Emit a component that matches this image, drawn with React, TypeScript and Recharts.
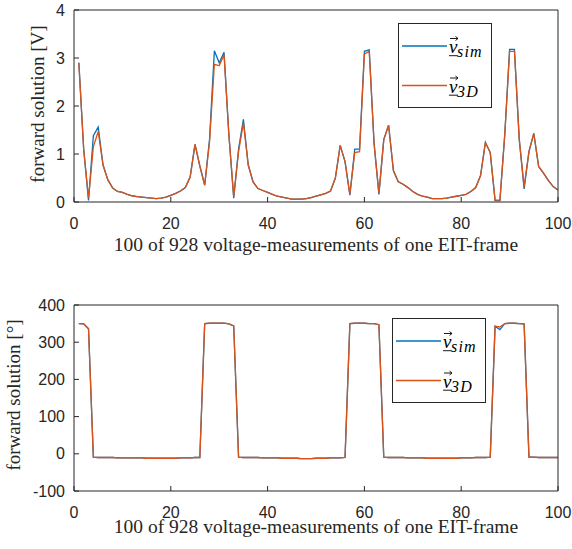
import React from 'react';
import { LineChart, Line, XAxis, YAxis, Legend } from 'recharts';

// measurement index (1..100)
const measurementIndex = [
  1, 2, 3, 4, 5, 6, 7, 8, 9, 10, 11, 12, 13, 14, 15, 16, 17, 18, 19, 20,
  21, 22, 23, 24, 25, 26, 27, 28, 29, 30, 31, 32, 33, 34, 35, 36, 37, 38, 39, 40,
  41, 42, 43, 44, 45, 46, 47, 48, 49, 50, 51, 52, 53, 54, 55, 56, 57, 58, 59, 60,
  61, 62, 63, 64, 65, 66, 67, 68, 69, 70, 71, 72, 73, 74, 75, 76, 77, 78, 79, 80,
  81, 82, 83, 84, 85, 86, 87, 88, 89, 90, 91, 92, 93, 94, 95, 96, 97, 98, 99, 100,
];

// magnitude [V]
const magSim = [
  2.9, 1.1, 0.03, 1.38, 1.56, 0.77, 0.46, 0.29, 0.22, 0.2,
  0.16, 0.13, 0.11, 0.1, 0.09, 0.08, 0.07, 0.08, 0.1, 0.14,
  0.18, 0.23, 0.3, 0.52, 1.2, 0.75, 0.35, 1.3, 3.15, 2.9,
  3.12, 1.4, 0.08, 1.1, 1.72, 0.77, 0.42, 0.28, 0.24, 0.2,
  0.16, 0.12, 0.1, 0.08, 0.06, 0.06, 0.06, 0.07, 0.09, 0.12,
  0.15, 0.18, 0.23, 0.5, 1.18, 0.84, 0.14, 1.1, 1.1, 3.14,
  3.17, 1.22, 0.16, 1.3, 1.6, 0.65, 0.42, 0.37, 0.3, 0.22,
  0.16, 0.12, 0.1, 0.07, 0.07, 0.07, 0.08, 0.1, 0.12, 0.14,
  0.16, 0.22, 0.3, 0.55, 1.24, 1.03, 0.03, 0.03, 1.4, 3.18,
  3.18, 1.3, 0.27, 1.05, 1.43, 0.74, 0.6, 0.45, 0.32, 0.25,
];
const mag3D = [
  2.9, 1.1, 0.08, 1.15, 1.47, 0.77, 0.46, 0.29, 0.22, 0.2,
  0.16, 0.13, 0.11, 0.1, 0.09, 0.08, 0.07, 0.08, 0.1, 0.14,
  0.18, 0.23, 0.3, 0.52, 1.2, 0.75, 0.35, 1.25, 2.87, 2.84,
  3.07, 1.4, 0.11, 1.05, 1.65, 0.77, 0.42, 0.28, 0.24, 0.2,
  0.16, 0.12, 0.1, 0.08, 0.06, 0.06, 0.06, 0.07, 0.09, 0.12,
  0.15, 0.18, 0.23, 0.5, 1.18, 0.84, 0.16, 1.03, 1.05, 3.08,
  3.14, 1.22, 0.18, 1.3, 1.6, 0.65, 0.42, 0.37, 0.3, 0.22,
  0.16, 0.12, 0.1, 0.07, 0.07, 0.07, 0.08, 0.1, 0.12, 0.14,
  0.16, 0.22, 0.3, 0.55, 1.24, 1.03, 0.04, 0.04, 1.4, 3.14,
  3.14, 1.3, 0.32, 1.05, 1.43, 0.74, 0.6, 0.45, 0.32, 0.25,
];

// phase [deg]
const phSim = [
  350, 349, 337, -9, -10, -10, -10, -10, -11, -11,
  -11, -11, -11, -11, -12, -12, -12, -12, -12, -12,
  -12, -11, -11, -11, -10, -10, 350, 351, 351, 351,
  351, 349, 344, -9, -10, -10, -10, -10, -11, -11,
  -11, -11, -12, -12, -12, -12, -13, -13, -13, -12,
  -12, -12, -11, -11, -11, -10, 350, 351, 351, 351,
  350, 350, 347, -9, -10, -10, -10, -10, -11, -11,
  -11, -11, -12, -12, -12, -12, -12, -12, -12, -11,
  -11, -11, -10, -10, -10, -9, 343, 334, 350, 351,
  351, 350, 349, -9, -9, -10, -10, -10, -10, -10,
];
const ph3D = [
  350, 349, 335, -9, -10, -10, -10, -10, -11, -11,
  -11, -11, -11, -11, -12, -12, -12, -12, -12, -12,
  -12, -11, -11, -11, -10, -10, 350, 351, 351, 351,
  351, 349, 344, -9, -10, -10, -10, -10, -11, -11,
  -11, -11, -12, -12, -12, -12, -13, -13, -13, -12,
  -12, -12, -11, -11, -11, -10, 350, 351, 351, 351,
  350, 350, 347, -9, -10, -10, -10, -10, -11, -11,
  -11, -11, -12, -12, -12, -12, -12, -12, -12, -11,
  -11, -11, -10, -10, -10, -9, 343, 341, 350, 351,
  351, 350, 349, -9, -9, -10, -10, -10, -10, -10,
];

const xTicks = [0, 20, 40, 60, 80, 100];
const magTicks = [0, 1, 2, 3, 4];
const phTicks = [-100, 0, 100, 200, 300, 400];

const xLabel = '100 of 928 voltage-measurements of one EIT-frame';
const magLabel = 'forward solution [V]';
const phLabel = 'forward solution [°]';
const seriesNames = ['sim', '3D'];

const BLUE = '#0072BD';
const ORANGE = '#D95319';
const AXIS = '#262626';
const SANS = "'Liberation Sans', Arial, Helvetica, sans-serif";
const SERIF = "'Liberation Serif', 'DejaVu Serif', serif";

const magData = measurementIndex.map((x, i) => ({ x, sim: magSim[i], d3: mag3D[i] }));
const phData = measurementIndex.map((x, i) => ({ x, sim: phSim[i], d3: ph3D[i] }));

const X_MARGIN = 16;
const Y_MARGIN = 9;
const TICK_LEN = 5;

const XTick = (props: any) => {
  const { x, y, payload } = props;
  const axisY = y - X_MARGIN;
  return (
    <g>
      <line x1={x} x2={x} y1={axisY} y2={axisY - TICK_LEN} stroke={AXIS} strokeWidth={1} />
      <text x={x} y={y} dy="0.71em" textAnchor="middle" fontFamily={SANS} fontSize={16} fill={AXIS}>
        {payload.value}
      </text>
    </g>
  );
};

const YTick = (props: any) => {
  const { x, y, payload } = props;
  const axisX = x + Y_MARGIN;
  return (
    <g>
      <line x1={axisX} x2={axisX + TICK_LEN} y1={y} y2={y} stroke={AXIS} strokeWidth={1} />
      <text x={x} y={y} dy="0.355em" textAnchor="end" fontFamily={SANS} fontSize={16} fill={AXIS}>
        {payload.value}
      </text>
    </g>
  );
};

const makeYLabel = (text: string, baseX: number, shiftY: number) => (props: any) => {
  const vb = props.viewBox || {};
  const cx = (vb.x || 0) + baseX;
  const cy = (vb.y || 0) + (vb.height || 0) / 2 + shiftY;
  return (
    <text
      x={cx}
      y={cy}
      transform={`rotate(-90, ${cx}, ${cy})`}
      textAnchor="middle"
      fontFamily={SERIF}
      fontSize={19}
      fill={AXIS}
    >
      {text}
    </text>
  );
};

const makeXLabel = (text: string, baselineBelow: number) => (props: any) => {
  const vb = props.viewBox || {};
  const cx = (vb.x || 0) + (vb.width || 0) / 2;
  const cy = (vb.y || 0) + baselineBelow;
  return (
    <text x={cx} y={cy} textAnchor="middle" fontFamily={SERIF} fontSize={19.5} fill={AXIS}>
      {text}
    </text>
  );
};

const LegendContent = (props: any) => {
  const payload = [...(props.payload || [])].sort(
    (a: any, b: any) => seriesNames.indexOf(a.value) - seriesNames.indexOf(b.value),
  );
  const W = 94;
  const H = 85;
  return (
    <svg width={W} height={H} style={{ display: 'block' }}>
      <rect x={0.5} y={0.5} width={W - 1} height={H - 1} fill="#fff" stroke={AXIS} strokeWidth={1} />
      {payload.map((p: any, i: number) => {
        const cy = 23 + i * 39.5;
        const vx = 51;
        return (
          <g key={i}>
            <line x1={4} x2={49} y1={cy} y2={cy} stroke={p.color} strokeWidth={1.3} />
            <text x={vx} y={cy + 7} fontFamily={SERIF} fontStyle="italic" fontSize={19} fill="#000">
              v
            </text>
            <path
              d={`M${vx + 1} ${cy - 7.5} H${vx + 9} M${vx + 6.5} ${cy - 9.5} L${vx + 9} ${cy - 7.5} L${vx + 6.5} ${cy - 5.5}`}
              stroke="#000"
              strokeWidth={0.9}
              fill="none"
            />
            <line x1={vx} x2={vx + 8.5} y1={cy + 9.7} y2={cy + 9.7} stroke="#000" strokeWidth={0.9} />
            <text
              x={vx + 8}
              y={cy + 11}
              fontFamily={SERIF}
              fontStyle="italic"
              fontSize={16}
              letterSpacing={1.2}
              fill="#000"
            >
              {p.value}
            </text>
          </g>
        );
      })}
    </svg>
  );
};

type PanelProps = {
  data: any[];
  height: number;
  marginTop: number;
  xAxisHeight: number;
  xLabelBelow: number;
  yDomain: [number, number];
  yTicks: number[];
  yLabel: string;
  yLabelX: number;
  yLabelShift: number;
  legendLeft: number;
  legendTop: number;
};

const Panel = (p: PanelProps) => (
  <LineChart
    width={572}
    height={p.height}
    data={p.data}
    margin={{ top: p.marginTop, right: 14, bottom: 12, left: 0 }}
  >
    <XAxis
      dataKey="x"
      type="number"
      domain={[0, 100]}
      ticks={xTicks}
      allowDataOverflow
      height={p.xAxisHeight}
      tickLine={false}
      tickSize={0}
      tickMargin={X_MARGIN}
      tick={<XTick />}
      axisLine={{ stroke: AXIS, strokeWidth: 1 }}
      interval={0}
      label={makeXLabel(xLabel, p.xLabelBelow)}
    />
    <XAxis
      xAxisId="top"
      orientation="top"
      type="number"
      domain={[0, 100]}
      ticks={xTicks}
      allowDataOverflow
      mirror
      height={1}
      tick={false}
      tickSize={TICK_LEN}
      tickLine={{ stroke: AXIS }}
      axisLine={{ stroke: AXIS, strokeWidth: 1 }}
      interval={0}
    />
    <YAxis
      type="number"
      domain={p.yDomain}
      ticks={p.yTicks}
      allowDataOverflow
      width={74}
      tickLine={false}
      tickSize={0}
      tickMargin={Y_MARGIN}
      tick={<YTick />}
      axisLine={{ stroke: AXIS, strokeWidth: 1 }}
      interval={0}
      label={makeYLabel(p.yLabel, p.yLabelX, p.yLabelShift)}
    />
    <YAxis
      yAxisId="right"
      orientation="right"
      type="number"
      domain={p.yDomain}
      ticks={p.yTicks}
      allowDataOverflow
      mirror
      width={1}
      tick={false}
      tickSize={TICK_LEN}
      tickLine={{ stroke: AXIS }}
      axisLine={{ stroke: AXIS, strokeWidth: 1 }}
      interval={0}
    />
    <Legend
      layout="vertical"
      align="center"
      verticalAlign="middle"
      content={<LegendContent />}
      wrapperStyle={{ left: p.legendLeft, top: p.legendTop, width: 94, height: 85 }}
    />
    <Line
      type="linear"
      dataKey="sim"
      name={seriesNames[0]}
      stroke={BLUE}
      strokeWidth={1.3}
      dot={false}
      activeDot={false}
      isAnimationActive={false}
    />
    <Line
      type="linear"
      dataKey="d3"
      name={seriesNames[1]}
      stroke={ORANGE}
      strokeWidth={1.3}
      dot={false}
      activeDot={false}
      isAnimationActive={false}
    />
  </LineChart>
);

export default function App() {
  return (
    <div style={{ position: 'absolute', left: 0, top: 0, width: 572, height: 549, background: '#fff' }}>
      <div style={{ position: 'absolute', left: 0, top: 0 }}>
        <Panel
          data={magData}
          height={270}
          marginTop={10}
          xAxisHeight={56}
          xLabelBelow={49}
          yDomain={[0, 4]}
          yTicks={magTicks}
          yLabel={magLabel}
          yLabelX={44}
          yLabelShift={-2}
          legendLeft={398}
          legendTop={23}
        />
      </div>
      <div style={{ position: 'absolute', left: 0, top: 280 }}>
        <Panel
          data={phData}
          height={269}
          marginTop={25}
          xAxisHeight={46}
          xLabelBelow={42}
          yDomain={[-100, 400]}
          yTicks={phTicks}
          yLabel={phLabel}
          yLabelX={20}
          yLabelShift={-3}
          legendLeft={392}
          legendTop={38}
        />
      </div>
    </div>
  );
}
